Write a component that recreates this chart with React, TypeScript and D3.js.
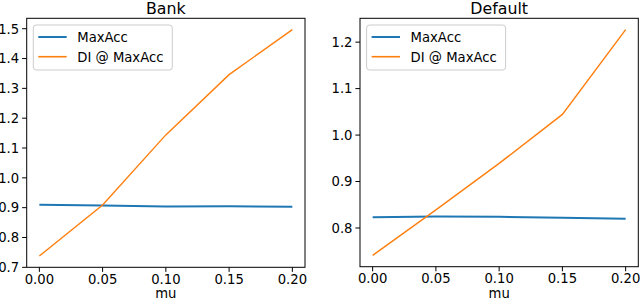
import React from 'react';
import * as d3 from 'd3';

// mu values shared by both panels
const mu = [0, 0.05, 0.1, 0.15, 0.2];

const bankMaxAcc = [0.910, 0.907, 0.904, 0.905, 0.903];
const bankDI = [0.738, 0.909, 1.144, 1.346, 1.497];

const defaultMaxAcc = [0.823, 0.825, 0.824, 0.822, 0.820];
const defaultDI = [0.741, 0.839, 0.939, 1.0445, 1.227];

const xTicks = [0, 0.05, 0.1, 0.15, 0.2];
const bankYTicks = [0.7, 0.8, 0.9, 1.0, 1.1, 1.2, 1.3, 1.4, 1.5];
const defaultYTicks = [0.8, 0.9, 1.0, 1.1, 1.2];

const seriesNames = ['MaxAcc', 'DI @ MaxAcc'];
const colors = ['#1f77b4', '#ff7f0e'];

const FONT = 'DejaVu Sans, sans-serif';

type PanelProps = {
  title: string;
  left: number;
  right: number;
  top: number;
  bottom: number;
  acc: number[];
  di: number[];
  yTicks: number[];
};

function Panel({ title, left, right, top, bottom, acc, di, yTicks }: PanelProps) {
  const xScale = d3.scaleLinear().domain([-0.01, 0.21]).range([left, right]);
  const all = acc.concat(di);
  const [lo, hi] = d3.extent(all) as [number, number];
  const pad = (hi - lo) * 0.05;
  const yScale = d3.scaleLinear().domain([lo - pad, hi + pad]).range([bottom, top]);

  const line = d3.line<number>().x((_, i) => xScale(mu[i])).y(d => yScale(d));

  const legX = left + 6.6;
  const legY = top + 6.7;

  return (
    <g>
      <rect x={left} y={top} width={right - left} height={bottom - top} fill="white" />
      <path d={line(acc) || ''} fill="none" stroke={colors[0]} strokeWidth={2} />
      <path d={line(di) || ''} fill="none" stroke={colors[1]} strokeWidth={1.4} />
      <rect x={left} y={top} width={right - left} height={bottom - top} fill="none" stroke="black" strokeWidth={1} />

      {xTicks.map(t => (
        <g key={t}>
          <line x1={xScale(t)} x2={xScale(t)} y1={bottom} y2={bottom + 4.6} stroke="black" strokeWidth={1} />
          <text x={xScale(t)} y={bottom + 16.3} textAnchor="middle" fontSize={13.2} fontFamily={FONT}>
            {t.toFixed(2)}
          </text>
        </g>
      ))}
      {yTicks.map(t => (
        <g key={t}>
          <line x1={left - 4.6} x2={left} y1={yScale(t)} y2={yScale(t)} stroke="black" strokeWidth={1} />
          <text x={left - 7.5} y={yScale(t) + 4.8} textAnchor="end" fontSize={13.2} fontFamily={FONT}>
            {t.toFixed(1)}
          </text>
        </g>
      ))}

      <text x={(left + right) / 2} y={298} textAnchor="middle" fontSize={13.2} fontFamily={FONT}>mu</text>
      <text x={(left + right) / 2} y={13.5} textAnchor="middle" fontSize={15.8} fontFamily={FONT}>{title}</text>

      <rect x={legX} y={legY} width={139} height={45} rx={3} fill="white" fillOpacity={0.8} stroke="#cccccc" strokeWidth={1} />
      {seriesNames.map((name, i) => (
        <g key={name}>
          <line x1={legX + 5} x2={legX + 33.4} y1={legY + 12 + i * 19.7} y2={legY + 12 + i * 19.7} stroke={colors[i]} strokeWidth={i === 0 ? 2 : 1.6} />
          <text x={legX + 44} y={legY + 12 + i * 19.7 + 4.8} fontSize={13.2} fontFamily={FONT}>{name}</text>
        </g>
      ))}
    </g>
  );
}

export default function App() {
  return (
    <svg width={640} height={301} style={{ position: 'absolute', left: 0, top: 0, background: 'white' }}>
      <rect width={640} height={301} fill="white" />
      <Panel title="Bank" left={26.7} right={305} top={18.3} bottom={267.3} acc={bankMaxAcc} di={bankDI} yTicks={bankYTicks} />
      <Panel title="Default" left={360} right={638.3} top={18.3} bottom={266.7} acc={defaultMaxAcc} di={defaultDI} yTicks={defaultYTicks} />
    </svg>
  );
}
